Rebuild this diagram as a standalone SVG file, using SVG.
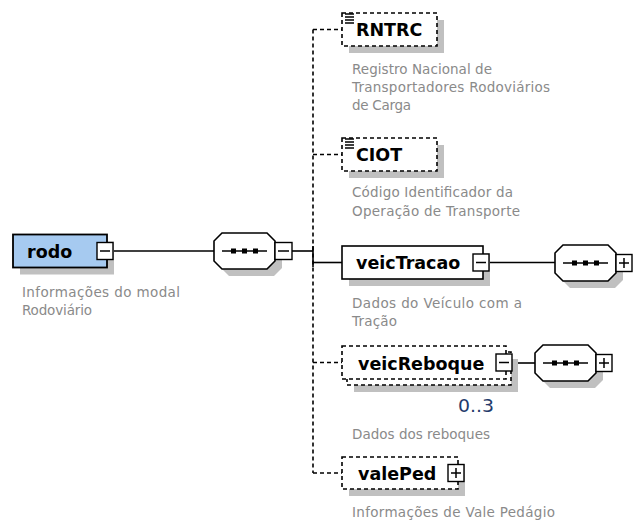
<svg xmlns="http://www.w3.org/2000/svg" width="635" height="523" viewBox="0 0 635 523">
<style>
  .bg { fill: #ffffff; }
  .shadow { fill: #c0c0c0; stroke: none; }
  .box { fill: #ffffff; stroke: #000000; stroke-width: 1.6; }
  .opt { fill: #ffffff; stroke: #000000; stroke-width: 1.6; stroke-dasharray: 4 3; }
  .root { fill: #a6caf0; stroke: #000000; stroke-width: 1.8; }
  .btn { fill: #ffffff; stroke: #000000; stroke-width: 1.4; }
  .sign { stroke: #000000; stroke-width: 1.5; fill: none; }
  .seq { fill: #ffffff; stroke: #000000; stroke-width: 1.6; }
  .dot { fill: #000000; }
  .name { font-family: "DejaVu Sans", Verdana, sans-serif; font-weight: bold; font-size: 17.5px; fill: #000000; }
  .desc { font-family: "DejaVu Sans", Verdana, sans-serif; font-size: 13.5px; fill: #8a8a8a; }
  .occ { font-family: "DejaVu Sans", Verdana, sans-serif; font-size: 17px; fill: #233a6b; }
  .solid { stroke: #000000; stroke-width: 1.6; fill: none; }
  .dash { stroke: #000000; stroke-width: 1.6; fill: none; stroke-dasharray: 4 3; }
  .icon { stroke: #000000; stroke-width: 1.3; }
</style>
<rect class="bg" x="0" y="0" width="635" height="523"/>

<g id="connectors">
  <path class="solid" d="M114,251 H214"/>
  <path class="solid" d="M292,251 H313"/>
  <path class="dash" d="M313,29.5 V473"/>
  <path class="solid" d="M313,246 V267"/>
  <path class="dash" d="M313,29.5 H342"/>
  <path class="dash" d="M313,154.5 H342"/>
  <path class="solid" d="M313,262.5 H342"/>
  <path class="dash" d="M313,362.5 H342"/>
  <path class="dash" d="M313,473 H342"/>
  <path class="solid" d="M489,262.5 H555"/>
  <path class="solid" d="M512,363 H535"/>
</g>

<g id="rodo">
  <rect class="shadow" x="20" y="241.5" width="94" height="33"/>
  <rect class="root" x="13" y="234.5" width="94" height="33"/>
  <text class="name" x="27" y="257.5">rodo</text>
  <rect class="btn" x="97" y="242.5" width="16" height="17"/>
  <path class="sign" d="M100,251 H110"/>
  <text class="desc" x="22" y="297" textLength="158">Informações do modal</text>
  <text class="desc" x="22" y="315" textLength="70">Rodoviário</text>
</g>

<g id="sequence1">
  <path class="shadow" d="M229,240 H274 L282,248 V268 L274,276 H229 L221,268 V248 Z"/>
  <path class="seq" d="M222,233 H267 L275,241 V261 L267,269 H222 L214,261 V241 Z"/>
  <path class="solid" d="M222,251 H267"/>
  <rect class="dot" x="231" y="248.5" width="5" height="5"/>
  <rect class="dot" x="242" y="248.5" width="5" height="5"/>
  <rect class="dot" x="253" y="248.5" width="5" height="5"/>
  <rect class="btn" x="275" y="242.5" width="17" height="17"/>
  <path class="sign" d="M278,251 H289"/>
</g>

<g id="RNTRC">
  <rect class="shadow" x="349" y="20" width="95" height="33"/>
  <rect class="opt" x="342" y="13" width="95" height="33"/>
  <path class="icon" d="M345,14 H354 M345,17 H354 M345,20 H354 M345,23 H354"/>
  <text class="name" x="356" y="36">RNTRC</text>
  <text class="desc" x="352" y="74" textLength="140">Registro Nacional de</text>
  <text class="desc" x="352" y="92" textLength="198">Transportadores Rodoviários</text>
  <text class="desc" x="352" y="110" textLength="59">de Carga</text>
</g>

<g id="CIOT">
  <rect class="shadow" x="349" y="145" width="95" height="33"/>
  <rect class="opt" x="342" y="138" width="95" height="33"/>
  <path class="icon" d="M345,139 H354 M345,142 H354 M345,145 H354 M345,148 H354"/>
  <text class="name" x="356" y="161">CIOT</text>
  <text class="desc" x="352" y="197" textLength="161">Código Identificador da</text>
  <text class="desc" x="352" y="216" textLength="168">Operação de Transporte</text>
</g>

<g id="veicTracao">
  <rect class="shadow" x="349" y="253" width="141" height="33"/>
  <rect class="box" x="342" y="246" width="141" height="33"/>
  <text class="name" x="356" y="269">veicTracao</text>
  <rect class="btn" x="473" y="254" width="16" height="17"/>
  <path class="sign" d="M476,262.5 H486"/>
  <text class="desc" x="352" y="308" textLength="170">Dados do Veículo com a</text>
  <text class="desc" x="352" y="326" textLength="45">Tração</text>
</g>

<g id="sequence2">
  <path class="shadow" d="M570,252 H615 L623,260 V280 L615,288 H570 L562,280 V260 Z"/>
  <path class="seq" d="M563,245 H608 L616,253 V273 L608,281 H563 L555,273 V253 Z"/>
  <path class="solid" d="M563,263 H608"/>
  <rect class="dot" x="572" y="260.5" width="5" height="5"/>
  <rect class="dot" x="583" y="260.5" width="5" height="5"/>
  <rect class="dot" x="594" y="260.5" width="5" height="5"/>
  <rect class="btn" x="616" y="254.5" width="16" height="17"/>
  <path class="sign" d="M619,263 H629 M624,258 V268"/>
</g>

<g id="veicReboque">
  <rect class="shadow" x="354" y="359" width="164" height="33"/>
  <rect class="opt" x="347" y="352" width="164" height="33"/>
  <rect class="opt" x="342" y="346" width="164" height="33"/>
  <text class="name" x="358" y="369.5">veicReboque</text>
  <rect class="btn" x="496" y="354" width="16" height="17"/>
  <path class="sign" d="M499,362.5 H509"/>
  <text class="occ" x="458" y="412" textLength="36" lengthAdjust="spacingAndGlyphs">0..3</text>
  <text class="desc" x="352" y="439" textLength="138">Dados dos reboques</text>
</g>

<g id="sequence3">
  <path class="shadow" d="M550,352 H595 L603,360 V380 L595,388 H550 L542,380 V360 Z"/>
  <path class="seq" d="M543,345 H588 L596,353 V373 L588,381 H543 L535,373 V353 Z"/>
  <path class="solid" d="M543,363 H588"/>
  <rect class="dot" x="552" y="360.5" width="5" height="5"/>
  <rect class="dot" x="563" y="360.5" width="5" height="5"/>
  <rect class="dot" x="574" y="360.5" width="5" height="5"/>
  <rect class="btn" x="596" y="354.5" width="16" height="17"/>
  <path class="sign" d="M599,363 H609 M604,358 V368"/>
</g>

<g id="valePed">
  <rect class="shadow" x="349" y="464" width="116" height="32"/>
  <rect class="opt" x="342" y="457" width="116" height="32"/>
  <text class="name" x="358" y="479.5">valePed</text>
  <rect class="btn" x="448" y="464.5" width="16" height="17"/>
  <path class="sign" d="M451,473 H461 M456,468 V478"/>
  <text class="desc" x="352" y="517" textLength="203">Informações de Vale Pedágio</text>
</g>
</svg>
